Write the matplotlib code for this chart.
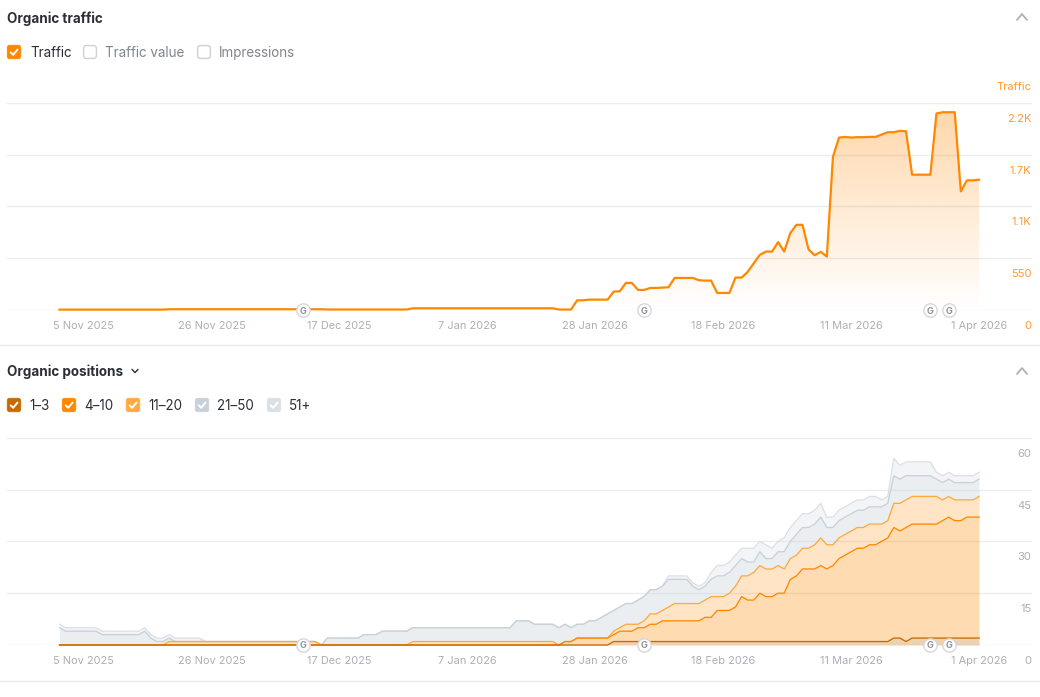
import numpy as np
import pandas as pd
import matplotlib
matplotlib.use("Agg")
import matplotlib.pyplot as plt
import matplotlib.dates as mdates
from matplotlib.patches import FancyBboxPatch, Polygon
from matplotlib.lines import Line2D

plt.rcParams['font.family'] = ['Inter', 'DejaVu Sans']

# ---------- data ----------
dates = pd.date_range('2025-11-01', '2026-04-01', freq='D')
traffic = ([4]*18 + [8]*26 + [5]*14 + [18]*24 + [5]*3 +
           [103, 103, 110, 110, 110, 110, 195, 199, 287, 287, 213, 213, 234, 234, 237, 241,
            340, 340, 340, 340, 316, 312, 312, 181, 181, 181, 344, 344, 404, 496, 585, 620,
            620, 720, 620, 816, 904, 904, 642, 582, 617, 567, 1624, 1830, 1837, 1830, 1834,
            1834, 1837, 1837, 1862, 1887, 1887, 1901, 1897, 1436, 1436, 1436, 1436, 2085,
            2099, 2099, 2099, 1259, 1376, 1376, 1383])

# cumulative top of each position band
common_top = ([1]*19 + [0] + [2]*6 + [3]*3 + [4]*5 + [5]*17 + [7]*3 + [6]*4 +
              [5, 6, 5, 6, 6, 7, 7, 8, 9, 10, 11, 12, 12, 13, 14, 16, 16, 17])
top_51 = ([6] + [5]*6 + [4]*7 + [5, 3, 2, 2, 3] + [2]*5 + common_top +
          [20, 20, 20, 20, 18, 17, 18, 21, 23, 23, 24, 26, 28, 28, 28, 30, 29, 28, 30, 31,
           34, 36, 38, 38, 39, 41, 37, 37, 39, 40, 41, 42, 42, 43, 43, 42, 43, 54, 52, 53,
           53, 53, 53, 53, 50, 49, 50, 49, 49, 49, 49, 50])
top_21_50 = ([5] + [4]*6 + [3]*7 + [4, 2, 1, 1, 2] + [1]*5 + common_top +
             [19, 19, 19, 19, 17, 16, 17, 19, 20, 20, 21, 23, 25, 24, 24, 27, 25, 25, 27, 27,
              30, 32, 34, 34, 35, 37, 34, 34, 36, 37, 38, 39, 39, 40, 40, 40, 41, 49, 48, 49,
              49, 49, 49, 49, 48, 47, 48, 47, 47, 47, 47, 48])
top_11_20 = ([0]*18 + [1]*25 + [0]*15 + [1]*24 + [0, 1, 1] + [2]*6 +
             [4, 5, 6, 6, 6, 7, 9, 9, 10, 11, 12, 12, 12, 12, 12, 13, 14, 14, 14, 15, 17, 20,
              20, 21, 23, 22, 22, 23, 22, 25, 26, 28, 28, 29, 31, 29, 29, 31, 32, 33, 34, 34,
              35, 35, 35, 36, 41, 41, 42, 43, 43, 43, 43, 43, 42, 43, 42, 42, 42, 42, 43])
top_4_10 = ([0]*83 + [1, 1] + [2]*6 +
            [3, 4, 4, 4, 5, 5, 6, 6, 7, 7, 7, 7, 7, 7, 7, 8, 8, 10, 10, 10, 11, 14, 13, 13,
             15, 14, 14, 15, 15, 19, 20, 22, 22, 22, 23, 22, 23, 25, 26, 27, 28, 28, 29, 29,
             30, 31, 34, 33, 34, 35, 35, 35, 35, 35, 36, 37, 36, 36, 37, 37, 37])
top_1_3 = [0]*91 + [1]*46 + [2, 2, 1] + [2]*12

assert all(len(s) == len(dates) for s in
           (traffic, top_51, top_21_50, top_11_20, top_4_10, top_1_3))

tick_dates = pd.to_datetime(['2025-11-05', '2025-11-26', '2025-12-17', '2026-01-07',
                             '2026-01-28', '2026-02-18', '2026-03-11', '2026-04-01'])
tick_labels = ['5 Nov 2025', '26 Nov 2025', '17 Dec 2025', '7 Jan 2026',
               '28 Jan 2026', '18 Feb 2026', '11 Mar 2026', '1 Apr 2026']
update_dates = pd.to_datetime(['2025-12-11', '2026-02-05', '2026-03-24', '2026-03-27'])
traffic_ticks = [0, 550, 1100, 1650, 2200]
traffic_tick_labels = ['0', '550', '1.1K', '1.7K', '2.2K']
position_ticks = [0, 15, 30, 45, 60]
band_names = ['1–3', '4–10', '11–20', '21–50', '51+']
band_colors = ['#C66A00', '#FF8800', '#FFA940', '#C8D0D9', '#DCE0E6']

# ---------- layout ----------
W, H = 1040, 697
fig = plt.figure(figsize=(W/100, H/100), dpi=100, facecolor='white')
GRID = '#EBECEE'
TICK = '#ABAFB4'
ORANGE = '#FF8800'
DARK = '#2A2F36'
xmin = dates[0] + pd.Timedelta(days=(7-59.5)/6.09)
xmax = dates[0] + pd.Timedelta(days=(1032-59.5)/6.09)


def make_axes(y_top, y_base, ymax, ticks, labels, label_color):
    ax = fig.add_axes([0, 0, 1, 1])
    ax.set_position([7/W, (H-y_base)/H, (1032-7)/W, (y_base-y_top)/H])
    ax.patch.set_alpha(0)
    for s in ax.spines.values():
        s.set_visible(False)
    ax.set_xlim(xmin, xmax)
    ax.set_ylim(0, ymax)
    ax.set_yticks(ticks)
    ax.set_yticklabels([])
    ax.tick_params(axis='y', length=0)
    ax.yaxis.grid(True, color=GRID, lw=1, zorder=0)
    ax.set_axisbelow(True)
    for v, t in zip(ticks, labels):
        ax.annotate(t, xy=(1, v), xycoords=ax.get_yaxis_transform(),
                    xytext=(-0.5, -16*0.72), textcoords='offset points',
                    ha='right', va='center', fontsize=8.1, color=label_color)
    ax.set_xticks(tick_dates)
    ax.set_xticklabels(tick_labels, fontsize=7.9, color=TICK)
    ax.tick_params(axis='x', length=0, pad=7.6)
    return ax


def g_markers(ax):
    for d in update_dates:
        ax.plot([d], [0], marker='o', ms=9.6, mfc='white', mec='#D6D7D9', mew=1,
                zorder=20, clip_on=False)
        ax.annotate('G', xy=(d, 0), ha='center', va='center_baseline', fontsize=6.6,
                    fontweight='bold', color='#8F9398', zorder=21)


# --- traffic chart ---
ax1 = make_axes(102.7, 310, 2200, traffic_ticks, traffic_tick_labels, '#FF9A2E')
xn = mdates.date2num(dates)
grad = np.zeros((256, 2, 4))
grad[..., 0] = 1.0
grad[..., 1] = 0x88/255
grad[..., 2] = 0.0
grad[..., 3] = np.linspace(0.33, 0.0, 256)[:, None]
img = ax1.imshow(grad, extent=[xn[0], xn[-1], 0, max(traffic)], origin='upper',
                 aspect='auto', zorder=2, interpolation='bilinear')
poly = Polygon(np.column_stack([np.r_[xn[0], xn, xn[-1]], np.r_[0, traffic, 0]]),
               transform=ax1.transData, fc='none', ec='none')
ax1.add_patch(poly)
img.set_clip_path(poly)
ax1.set_xlim(xmin, xmax)
ax1.set_ylim(0, 2200)
ax1.plot(dates, traffic, color=ORANGE, lw=1.6, zorder=5, clip_on=False, solid_joinstyle='round')
g_markers(ax1)

# --- positions chart ---
ax2 = make_axes(437.7, 645, 60, position_ticks, [str(v) for v in position_ticks], TICK)
tops = [top_1_3, top_4_10, top_11_20, top_21_50, top_51]
alphas = [0.30, 0.30, 0.30, 0.35, 0.33]
lower = np.zeros(len(dates))
for top, c, a in zip(tops, band_colors, alphas):
    ax2.fill_between(dates, lower, top, color=c, alpha=a, lw=0, zorder=2)
    lower = np.array(top)
for i in range(4, -1, -1):
    ax2.plot(dates, tops[i], color=band_colors[i], lw=0.95, zorder=5+(4-i), clip_on=False)
g_markers(ax2)

# --- overlay in pixel coordinates: headers, check boxes, separators ---
ov = fig.add_axes([0, 0, 1, 1], zorder=30)
ov.set_xlim(0, W)
ov.set_ylim(H, 0)
ov.axis('off')
ov.patch.set_alpha(0)

for y in (345, 681):
    ov.add_line(Line2D([0, W], [y, y], color='#E9E9EA', lw=1))


def checkbox(x, y, color=None):
    if color:
        ov.add_patch(FancyBboxPatch((x+1, y+1), 12, 12, boxstyle='round,pad=0.8,rounding_size=2.5',
                                    fc=color, ec=color, lw=0.5))
        ov.add_line(Line2D([x+3.7, x+6.2, x+10.5], [y+7.4, y+9.8, y+4.6], color='white',
                           lw=1.4, solid_capstyle='round', solid_joinstyle='round'))
    else:
        ov.add_patch(FancyBboxPatch((x+1, y+1), 12, 12, boxstyle='round,pad=0.4,rounding_size=2.5',
                                    fc='white', ec='#CFD1D3', lw=1))


def chevron(x, y, w, h, color, lw, up=True):
    s = -1 if up else 1
    ov.add_line(Line2D([x-w, x, x+w], [y-s*h, y+s*h, y-s*h], color=color, lw=lw,
                       solid_capstyle='round', solid_joinstyle='round'))


TITLE_SIZE = 9.7
LEG_SIZE = 9.65
ov.text(7, 18.8, 'Organic traffic', fontsize=TITLE_SIZE, fontweight='bold', color=DARK, va='center')
checkbox(7, 45, ORANGE)
ov.text(30, 52.8, 'Traffic', fontsize=LEG_SIZE, color=DARK, va='center')
checkbox(83, 45)
ov.text(105, 52.8, 'Traffic value', fontsize=LEG_SIZE, color='#7F868E', va='center')
checkbox(197, 45)
ov.text(219, 52.8, 'Impressions', fontsize=LEG_SIZE, color='#7F868E', va='center')
ov.text(1031, 86.8, 'Traffic', fontsize=8.0, color='#FF9A2E', ha='right', va='center')
chevron(1022, 17, 5, 3, '#AEB1B5', 1.3, up=True)

ov.text(7, 371.8, 'Organic positions', fontsize=TITLE_SIZE, fontweight='bold', color=DARK, va='center')
chevron(135, 371, 3, 1.6, DARK, 1.0, up=False)
chevron(1022, 371, 5, 3, '#AEB1B5', 1.3, up=True)
for name, c, bx, tx in zip(band_names, band_colors, [7, 62, 126, 195, 267], [29, 84, 148, 217, 289]):
    checkbox(bx, 398, c)
    ov.text(tx, 405.8, name, fontsize=LEG_SIZE, color=DARK, va='center')

fig.savefig('out.png', dpi=100)
